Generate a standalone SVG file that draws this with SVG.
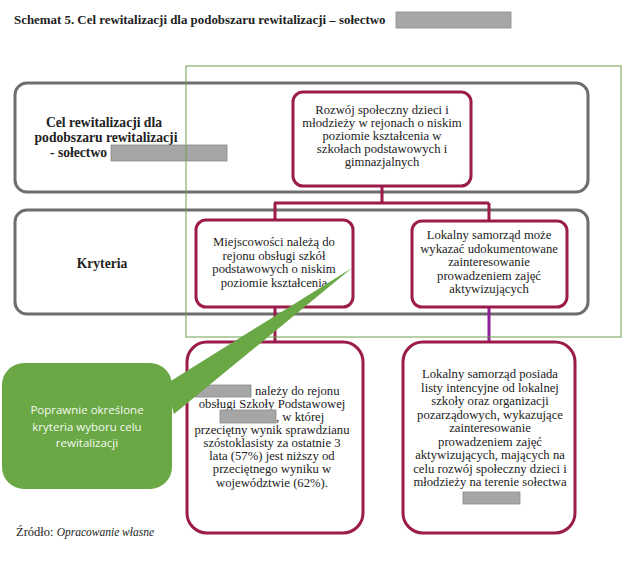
<svg xmlns="http://www.w3.org/2000/svg" width="629" height="561" viewBox="0 0 629 561">
<style>
.t{fill:#222}
.b{font-weight:bold}
.s{font-size:12.7px;text-anchor:middle}
.outer{fill:#fff;stroke:#6e6e6e;stroke-width:3}
.box{fill:#fff;stroke:#9b1b4b;stroke-width:3}
.con{fill:none;stroke:#9b1b4b;stroke-width:3}
.redact{fill:#a6a6a6;stroke:#8a8a8a;stroke-width:0.8}
.cl{font-size:11.5px;fill:#f4f9ef;text-anchor:middle}
</style>
<rect width="629" height="561" fill="#fff"/>
<g font-family="'Liberation Serif', 'Times New Roman', 'DejaVu Serif', serif">
<g id="title">
<text class="t b" x="14" y="24" font-size="12.9">Schemat 5. Cel rewitalizacji dla podobszaru rewitalizacji – sołectwo</text>
<rect class="redact" x="396" y="12" width="115" height="16"/>
</g>
<g id="row-cel">
<rect class="outer" x="15" y="83" width="573" height="109" rx="12"/>
<text class="t b" font-size="13.6" text-anchor="middle"><tspan x="104" y="127">Cel rewitalizacji dla</tspan><tspan x="106" y="142">podobszaru rewitalizacji</tspan></text>
<text class="t b" font-size="13.6" x="107" y="157" text-anchor="end">- sołectwo</text>
<rect class="redact" x="111" y="145" width="116" height="16"/>
</g>
<g id="row-kryteria">
<rect class="outer" x="15" y="210" width="573" height="104" rx="12"/>
<text class="t b" font-size="13.6" x="102" y="268" text-anchor="middle">Kryteria</text>
</g>
<g id="connectors">
<path class="con" d="M382 186V203M274 203H489M275 203V220M489 203V221M275 307V342"/>
<path d="M489 307V342" fill="none" stroke="#8e1f9c" stroke-width="3"/>
</g>
<g id="goal">
<rect class="box" x="293" y="92" width="178" height="94" rx="10"/>
<text class="t s"><tspan x="382" y="114">Rozwój społeczny dzieci i</tspan><tspan x="382" y="127">młodzieży w rejonach o niskim</tspan><tspan x="382" y="140">poziomie kształcenia w</tspan><tspan x="382" y="153">szkołach podstawowych i</tspan><tspan x="382" y="166">gimnazjalnych</tspan></text>
</g>
<g id="crit1">
<rect class="box" x="196" y="220" width="157" height="87" rx="10"/>
<text class="t s"><tspan x="274" y="246">Miejscowości należą do</tspan><tspan x="274" y="259.5">rejonu obsługi szkół</tspan><tspan x="274" y="273">podstawowych o niskim</tspan><tspan x="274" y="286.5">poziomie kształcenia</tspan></text>
</g>
<g id="crit2">
<rect class="box" x="412" y="221" width="155" height="86" rx="10"/>
<text class="t s"><tspan x="489" y="239">Lokalny samorząd może</tspan><tspan x="489" y="252.5">wykazać udokumentowane</tspan><tspan x="489" y="266">zainteresowanie</tspan><tspan x="489" y="279.5">prowadzeniem zajęć</tspan><tspan x="489" y="293">aktywizujących</tspan></text>
</g>
<g id="detail1">
<rect class="box" x="187" y="342" width="176" height="191" rx="20"/>
<rect class="redact" x="195" y="385" width="56" height="12"/>
<text class="t" font-size="12.7" x="255" y="395">należy do rejonu</text>
<text class="t s"><tspan x="272" y="408">obsługi Szkoły Podstawowej</tspan></text>
<rect class="redact" x="220" y="410" width="56" height="13"/>
<text class="t" font-size="12.7" x="276" y="421">, w której</text>
<text class="t s"><tspan x="272" y="434">przeciętny wynik sprawdzianu</tspan><tspan x="272" y="447">szóstoklasisty za ostatnie 3</tspan><tspan x="272" y="460">lata (57%) jest niższy od</tspan><tspan x="272" y="473">przeciętnego wyniku w</tspan><tspan x="272" y="487">województwie (62%).</tspan></text>
</g>
<g id="detail2">
<rect class="box" x="403" y="342" width="172" height="191" rx="20"/>
<text class="t s"><tspan x="490" y="378">Lokalny samorząd posiada</tspan><tspan x="490" y="391.5">listy intencyjne od lokalnej</tspan><tspan x="490" y="405">szkoły oraz organizacji</tspan><tspan x="490" y="418.5">pozarządowych, wykazujące</tspan><tspan x="490" y="432">zainteresowanie</tspan><tspan x="490" y="445.5">prowadzeniem zajęć</tspan><tspan x="490" y="459">aktywizujących, mających na</tspan><tspan x="490" y="472.5">celu rozwój społeczny dzieci i</tspan><tspan x="490" y="486">młodzieży na terenie sołectwa</tspan></text>
<rect class="redact" x="463" y="492" width="57" height="12"/>
</g>
<g id="source">
<text class="t" font-size="12.5" x="16" y="536">Źródło: <tspan font-style="italic" font-size="11.5">Opracowanie własne</tspan></text>
</g>
</g>
<g id="highlight">
<rect x="186" y="66" width="435" height="271" fill="none" stroke="#6f9e4c" stroke-width="1"/>
</g>
<g id="callout">
<path d="M352 268L166 384L174 414Z" fill="#6aa845"/>
<rect x="2" y="363" width="170" height="126" rx="22" fill="#6aa845"/>
<text class="cl" font-family="'Open Sans', 'Liberation Sans', sans-serif"><tspan x="87" y="414">Poprawnie  określone</tspan><tspan x="87" y="431">kryteria wyboru celu</tspan><tspan x="87" y="447">rewitalizacji</tspan></text>
</g>
</svg>
